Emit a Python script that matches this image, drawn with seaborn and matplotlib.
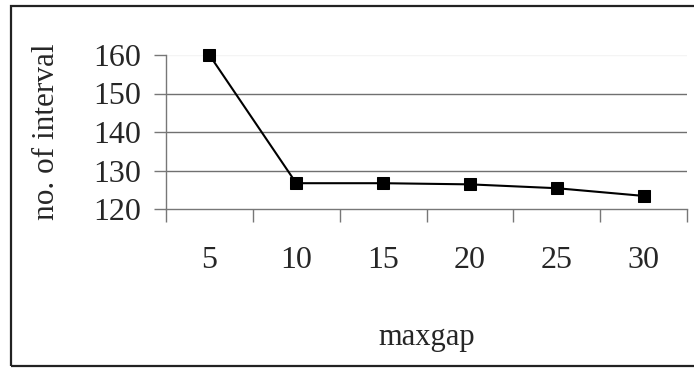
import matplotlib
matplotlib.use("Agg")
import matplotlib.pyplot as plt
import seaborn as sns
import numpy as np
import pandas as pd
from matplotlib.patches import Rectangle

categories = ["5", "10", "15", "20", "25", "30"]
intervals = [160, 126.7, 126.7, 126.4, 125.4, 123.4]
y_ticks = [120, 130, 140, 150, 160]

sns.set_style("white")
plt.rcParams['font.family'] = ['Liberation Serif', 'DejaVu Serif']

df = pd.DataFrame({"pos": np.arange(len(categories)), "val": intervals})

fig = plt.figure(figsize=(6.94, 3.69), dpi=100)
W, H = 694, 369
ax = fig.add_axes([166 / W, 1 - 209 / H, (687 - 166) / W, (209 - 55) / H])

sns.lineplot(data=df, x="pos", y="val", ax=ax, color="black", linewidth=1.5,
             marker="s", markersize=8, markeredgecolor="black",
             markerfacecolor="black")
for ln in ax.lines:
    ln.set_clip_on(False)

ax.set_xlim(-0.5, len(categories) - 0.5)
ax.set_ylim(120, 160)

for s in ["top", "right"]:
    ax.spines[s].set_visible(False)
for s in ["left", "bottom"]:
    ax.spines[s].set_color("#777777")
    ax.spines[s].set_linewidth(1.0)

ax.set_yticks(y_ticks)
ax.set_yticklabels([str(t) for t in y_ticks], fontsize=23)
for t in y_ticks[1:-1]:
    ax.axhline(t, color="#707070", linewidth=1.0, zorder=0)
ax.axhline(160, color="#f4f4f4", linewidth=1.0, zorder=0)

ax.set_xticks(np.arange(len(categories)))
ax.set_xticklabels(categories, fontsize=23)
ax.set_xticks(np.arange(-0.5, len(categories)), minor=True)
ax.tick_params(axis="x", which="major", length=0, pad=27)
ax.tick_params(axis="x", which="minor", length=9, width=1.0, color="#777777", direction="out")
ax.tick_params(axis="y", which="major", length=9, width=1.0, color="#777777", direction="out", pad=9)
ax.xaxis.set_tick_params(bottom=True, which="both")
ax.yaxis.set_tick_params(left=True)

ax.set_xlabel("maxgap", fontsize=22)
ax.xaxis.set_label_coords(0.5, -(338 - 209) / (209 - 55), transform=ax.transAxes)
ax.xaxis.label.set_va("center")
ax.set_ylabel("no. of interval", fontsize=22.5)
ax.yaxis.set_label_coords(-(166 - 47) / (687 - 166), 0.5)
ax.yaxis.label.set_va("center")

fig.patches.append(Rectangle((11 / W, 3 / H), (710 - 11) / W, (366 - 6) / H,
                             transform=fig.transFigure, fill=False,
                             edgecolor="#222222", linewidth=1.6))

fig.savefig("out.png", dpi=100)
